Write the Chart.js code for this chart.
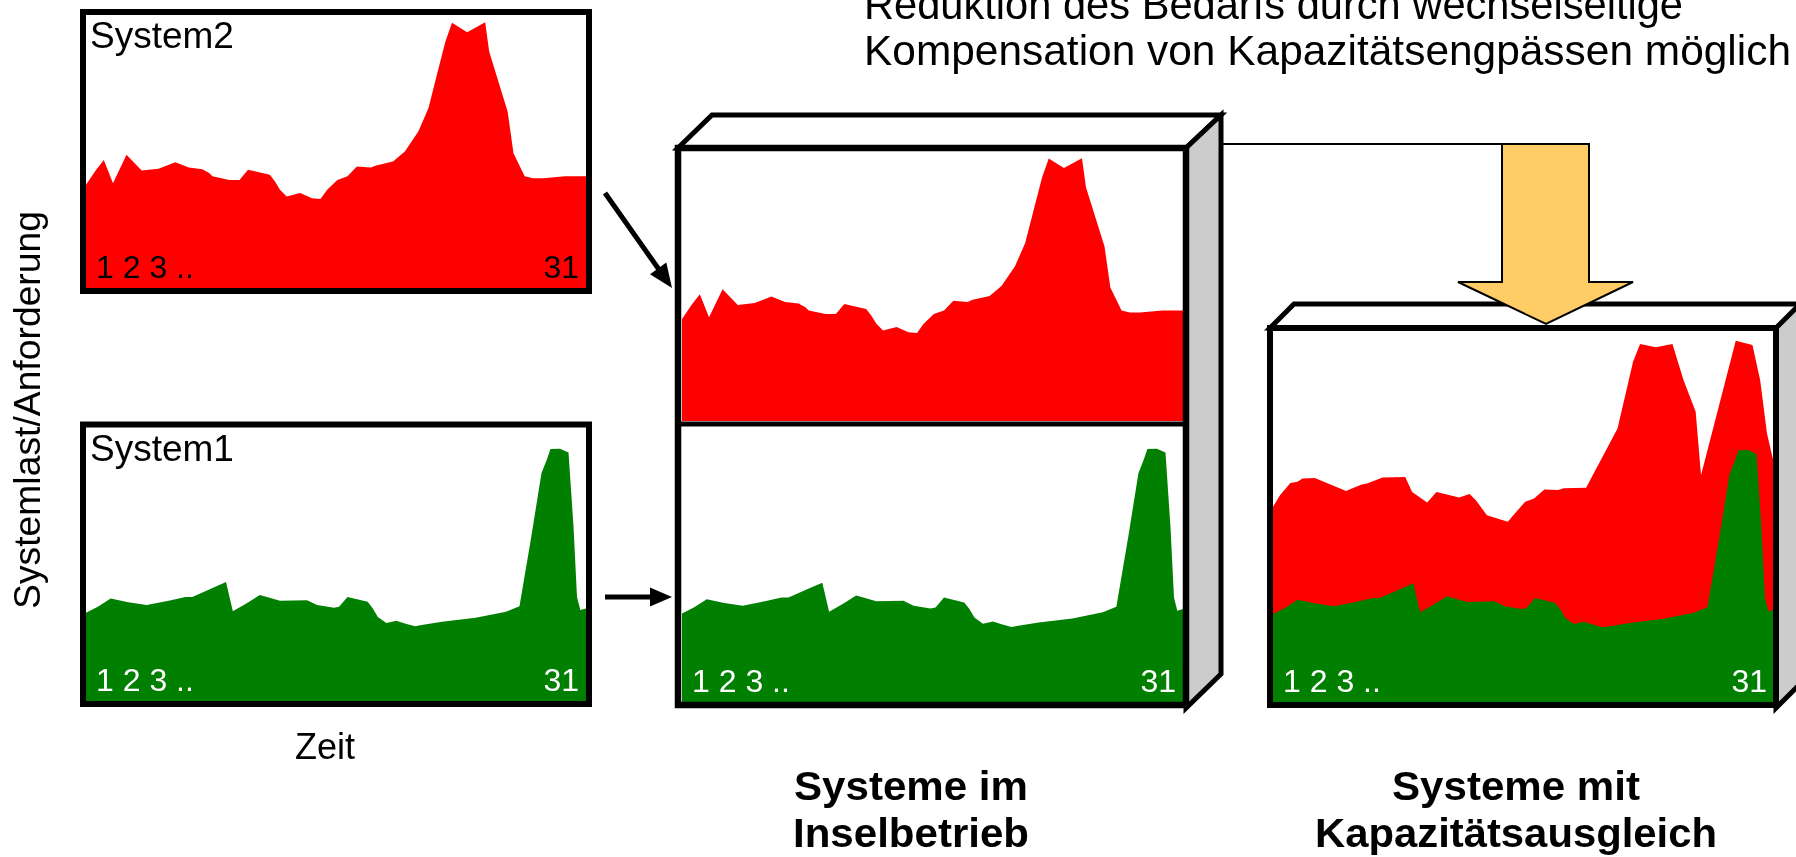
<!DOCTYPE html>
<html lang="de">
<head>
<meta charset="utf-8">
<title>Systemlast – Inselbetrieb und Kapazitätsausgleich</title>
<script src="https://cdn.jsdelivr.net/npm/chart.js@4.4.0/dist/chart.umd.min.js"></script>
<style>
  html, body { margin: 0; padding: 0; background: #fff; }
  #stage { position: relative; width: 1796px; height: 857px; overflow: hidden; }
  #stage canvas { position: absolute; display: block; }
  #frame { position: absolute; left: 0; top: 0; pointer-events: none; }
  #frame text { font-family: "Liberation Sans", Arial, Helvetica, sans-serif; fill: #000; }
</style>
</head>
<body>
<div id="stage">
  <canvas id="cSys2"  width="500" height="273" style="left:86px;top:15px"></canvas>
  <canvas id="cSys1"  width="500" height="274" style="left:86px;top:427px"></canvas>
  <canvas id="cIsoR"  width="501" height="270" style="left:682px;top:151px"></canvas>
  <canvas id="cIsoG"  width="501" height="275" style="left:682px;top:427px"></canvas>
  <canvas id="cComb"  width="501" height="372" style="left:1273px;top:330px"></canvas>

  <svg id="frame" width="1796" height="857" xmlns="http://www.w3.org/2000/svg">
    <!-- title -->
    <text x="864" y="19" font-size="42" textLength="819" lengthAdjust="spacingAndGlyphs">Reduktion des Bedarfs durch wechselseitige</text>
    <text x="864" y="65" font-size="42" textLength="927" lengthAdjust="spacingAndGlyphs">Kompensation von Kapazitätsengpässen möglich</text>

    <!-- single-system panels -->
    <rect x="83" y="12" width="506" height="279" fill="none" stroke="#000" stroke-width="6"/>
    <rect x="83" y="424.5" width="506" height="279.5" fill="none" stroke="#000" stroke-width="6"/>
    <text x="90" y="48" font-size="37">System2</text>
    <text x="90" y="461" font-size="37">System1</text>
    <text x="325" y="759" font-size="36" text-anchor="middle">Zeit</text>
    <text transform="translate(40,410) rotate(-90)" font-size="36" text-anchor="middle" textLength="398" lengthAdjust="spacingAndGlyphs">Systemlast/Anforderung</text>

    <!-- arrows into the island box -->
    <line x1="605" y1="193" x2="660" y2="271" stroke="#000" stroke-width="5"/>
    <polygon points="672,288 666.3,262.6 650,274.2" fill="#000"/>
    <line x1="605" y1="597" x2="656" y2="597" stroke="#000" stroke-width="5"/>
    <polygon points="672,597 650,587.5 650,606.5" fill="#000"/>

    <!-- island box (3D) -->
    <polygon points="678,148 712,115 1221,115 1186,148" fill="#fff" stroke="#000" stroke-width="5" stroke-linejoin="miter"/>
    <polygon points="1186,148 1221,115 1221,674 1186,708" fill="#ccc" stroke="#000" stroke-width="5" stroke-linejoin="miter"/>
    <rect x="678" y="148" width="508" height="557" fill="none" stroke="#000" stroke-width="6.5"/>
    <line x1="678" y1="424" x2="1186" y2="424" stroke="#000" stroke-width="5"/>

    <!-- balanced box (3D) -->
    <polygon points="1270,328 1294,304 1810,304 1776,328" fill="#fff" stroke="#000" stroke-width="5" stroke-linejoin="miter"/>
    <polygon points="1776,328 1800,304 1800,684 1776,708" fill="#ccc" stroke="#000" stroke-width="5" stroke-linejoin="miter"/>
    <rect x="1270" y="328" width="506" height="377" fill="none" stroke="#000" stroke-width="6"/>

    <!-- connector and block arrow -->
    <line x1="1221" y1="144" x2="1589" y2="144" stroke="#000" stroke-width="2"/>
    <polygon points="1502,144 1589,144 1589,282 1633,282 1546,324 1458,282 1502,282" fill="#FFCC66" stroke="#000" stroke-width="2" stroke-linejoin="miter"/>

    <!-- captions -->
    <text x="911" y="800" font-size="41" font-weight="bold" text-anchor="middle" textLength="234" lengthAdjust="spacingAndGlyphs">Systeme im</text>
    <text x="911" y="847" font-size="41" font-weight="bold" text-anchor="middle" textLength="236" lengthAdjust="spacingAndGlyphs">Inselbetrieb</text>
    <text x="1516" y="800" font-size="41" font-weight="bold" text-anchor="middle" textLength="248" lengthAdjust="spacingAndGlyphs">Systeme mit</text>
    <text x="1516" y="847" font-size="41" font-weight="bold" text-anchor="middle" textLength="402" lengthAdjust="spacingAndGlyphs">Kapazitätsausgleich</text>
  </svg>
</div>

<script>
// Day axis labels shown inside each panel
const dayTickFirst = '1 2 3 ..';
const dayTickLast = '31';

// System 2 load over the month (day, load in % of panel scale)
const sys2Day  = [1.0, 1.61, 2.07, 2.62, 3.43, 4.34, 5.35, 6.36, 7.17, 7.98, 8.39, 8.59, 9.60, 10.21, 10.72,
                  12.03, 12.34, 12.64, 13.04, 13.85, 14.56, 15.07, 15.47, 16.08, 16.69, 17.25, 18.10, 18.41,
                  19.42, 20.13, 20.94, 21.55, 22.05, 22.56, 22.96, 23.87, 24.95, 25.19, 26.30, 26.65, 27.32,
                  27.82, 28.43, 29.75, 31.0];
const sys2Load = [37.8, 43.3, 46.9, 38.4, 48.8, 43.0, 43.7, 46.1, 44.1, 43.5, 42.1, 40.9, 39.6, 39.6, 43.3,
                  41.5, 39.0, 36.0, 33.5, 34.8, 32.9, 32.6, 36.0, 39.6, 40.9, 44.5, 44.1, 44.9,
                  46.3, 50.0, 57.3, 65.9, 78.0, 90.2, 97.2, 93.7, 97.3, 86.6, 64.6, 49.4, 40.9,
                  40.2, 40.2, 40.9, 40.9];

// System 1 load over the month
const sys1Day  = [1.0, 1.71, 2.48, 3.53, 4.64, 5.96, 6.97, 7.38, 8.39, 9.40, 9.81, 10.62, 11.43, 12.64,
                  14.26, 14.87, 15.88, 16.18, 16.69, 17.90, 18.21, 18.51, 19.02, 19.62, 20.13, 20.74,
                  21.14, 22.36, 24.38, 26.20, 27.01, 27.72, 28.33, 28.63, 28.87, 29.44, 29.95, 30.25,
                  30.46, 30.66, 31.0];
const sys1Load = [32.2, 34.4, 37.4, 36.0, 35.0, 36.6, 38.0, 38.0, 40.7, 43.4, 32.8, 35.6, 38.7, 36.6,
                  36.8, 35.0, 34.0, 34.4, 38.0, 36.2, 33.8, 30.7, 28.5, 29.3, 28.3, 27.3,
                  27.7, 28.9, 30.4, 32.6, 34.6, 60.0, 83.2, 87.8, 92.0, 92.1, 90.7, 63.7,
                  38.0, 33.2, 33.8];

// Pooled demand of both systems with capacity balancing (upper edge of the red area)
const pooledDay  = [1.0, 1.42, 2.04, 2.46, 2.77, 3.50, 5.38, 5.69, 6.31, 6.63, 7.56, 8.92, 9.33, 10.23,
                    10.79, 12.15, 12.77, 13.15, 13.81, 15.06, 15.48, 16.10, 16.63, 17.25, 18.08, 18.40,
                    19.75, 21.63, 22.56, 22.98, 23.92, 24.92, 25.58, 26.31, 26.63, 28.71, 29.71, 30.17,
                    30.58, 31.0];
const pooledLoad = [71.4, 75.6, 80.1, 80.5, 81.7, 81.9, 77.1, 78.0, 79.5, 79.9, 82.1, 82.3, 76.8, 72.9,
                    76.8, 74.8, 76.0, 73.8, 68.3, 65.9, 68.9, 73.2, 74.4, 77.7, 77.5, 78.1,
                    78.3, 100.0, 124.4, 130.9, 129.7, 130.9, 117.7, 106.1, 82.9, 132.1, 130.5, 117.7,
                    98.2, 87.2];

const RED = '#FF0000';
const GREEN = '#007F00';

function points(days, loads) {
  return days.map((d, i) => ({ x: d, y: loads[i] }));
}

function areaSet(days, loads, color, order) {
  return {
    data: points(days, loads),
    fill: 'origin',
    backgroundColor: color,
    borderColor: color,
    borderWidth: 0,
    pointRadius: 0,
    tension: 0,
    order: order
  };
}

// Writes "1 2 3 .." and "31" at the bottom of the plot area
function dayLabels(color) {
  return {
    id: 'dayLabels',
    afterDraw(chart) {
      const ctx = chart.ctx;
      const xs = chart.scales.x;
      const area = chart.chartArea;
      ctx.save();
      ctx.fillStyle = color;
      ctx.font = '32px "Liberation Sans", Arial, sans-serif';
      ctx.textBaseline = 'alphabetic';
      ctx.textAlign = 'left';
      ctx.fillText(dayTickFirst, xs.getPixelForValue(1) + 10, area.bottom - 10);
      ctx.textAlign = 'right';
      ctx.fillText(dayTickLast, xs.getPixelForValue(31) - 7, area.bottom - 10);
      ctx.restore();
    }
  };
}

function makeChart(id, datasets, yMax, labelColor) {
  const plugins = labelColor ? [dayLabels(labelColor)] : [];
  return new Chart(document.getElementById(id), {
    type: 'line',
    data: { datasets: datasets },
    options: {
      responsive: false,
      animation: false,
      events: [],
      layout: { padding: 0 },
      plugins: { legend: { display: false }, tooltip: { enabled: false } },
      scales: {
        x: { type: 'linear', min: 1, max: 31, display: false },
        y: { min: 0, max: yMax, display: false }
      }
    },
    plugins: plugins
  });
}

makeChart('cSys2', [areaSet(sys2Day, sys2Load, RED, 1)], 100, '#000');
makeChart('cSys1', [areaSet(sys1Day, sys1Load, GREEN, 1)], 100, '#fff');
makeChart('cIsoR', [areaSet(sys2Day, sys2Load, RED, 1)], 100, null);
makeChart('cIsoG', [areaSet(sys1Day, sys1Load, GREEN, 1)], 100, '#fff');
makeChart('cComb', [
  areaSet(pooledDay, pooledLoad, RED, 2),
  areaSet(sys1Day, sys1Load, GREEN, 1)
], 136, '#fff');
</script>
</body>
</html>
